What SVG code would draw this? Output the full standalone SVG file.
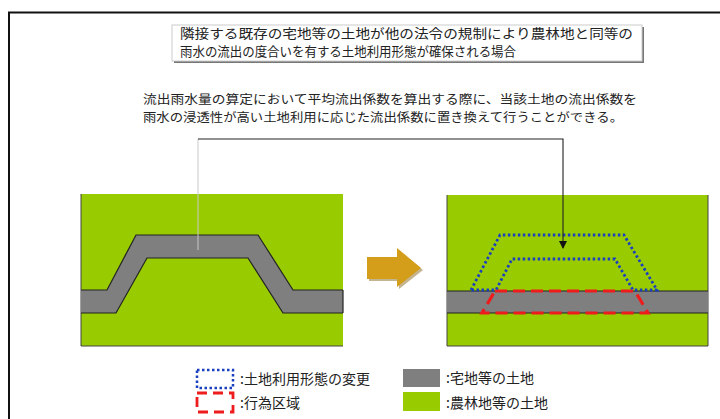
<svg xmlns="http://www.w3.org/2000/svg" width="720" height="419" viewBox="0 0 720 419">
<defs>
<style>
.t{font-family:"Noto Sans CJK JP","Noto Sans",sans-serif;fill:#222;}
.green{fill:#99cc00;}
.road{fill:#7f7f7f;}
.edge{fill:none;stroke:#222;stroke-width:1.2;}
.blue{fill:none;stroke:#1a3fbf;stroke-width:2.8;stroke-dasharray:2.5 2.5;}
.red{fill:none;stroke:#ee1c1c;stroke-width:3.2;stroke-dasharray:12 6;}
</style>
<marker id="ah" markerWidth="8" markerHeight="8" refX="7" refY="4" orient="auto" markerUnits="userSpaceOnUse">
<path d="M0,0 L8,4 L0,8 Z" fill="#111"/>
</marker>
</defs>
<rect x="0" y="0" width="720" height="419" fill="#fff"/>
<path d="M9,419 V12.5 H720" fill="none" stroke="#111" stroke-width="2"/>

<g id="title">
<rect x="174" y="27" width="470" height="36" fill="#777"/>
<rect x="172" y="25" width="470" height="36" fill="#fff" stroke="#ccc" stroke-width="1"/>
<text class="t" x="180" y="37.5" font-size="12.8" textLength="453" lengthAdjust="spacingAndGlyphs">隣接する既存の宅地等の土地が他の法令の規制により農林地と同等の</text>
<text class="t" x="180" y="55.5" font-size="12.8" textLength="336" lengthAdjust="spacingAndGlyphs">雨水の流出の度合いを有する土地利用形態が確保される場合</text>
</g>

<g id="note">
<text class="t" x="143" y="104" font-size="12" textLength="494" lengthAdjust="spacingAndGlyphs">流出雨水量の算定において平均流出係数を算出する際に、当該土地の流出係数を</text>
<text class="t" x="143" y="122" font-size="12" textLength="480" lengthAdjust="spacingAndGlyphs">雨水の浸透性が高い土地利用に応じた流出係数に置き換えて行うことができる。</text>
</g>

<g id="before">
<rect class="green" x="81" y="194" width="262" height="152"/>
<path d="M81,194 V346 H343" fill="none" stroke="#444" stroke-width="1"/>
<polygon class="road" points="81,290 107,290 136,235 258,235 293,290 343,290 343,313 283,313 248,258 147,258 116,313 81,313"/>
<polyline class="edge" points="81,290 107,290 136,235 258,235 293,290 343,290"/>
<polyline class="edge" points="81,313 116,313 147,258 248,258 283,313 343,313"/>
<line x1="343" y1="290" x2="343" y2="313" stroke="#222" stroke-width="1.2"/>
</g>

<g id="arrow">
<polygon points="369,259 399,259 399,250 423,270 399,289 399,281 369,281" fill="#8a6a20" opacity="0.5"/>
<polygon points="367,257 397,257 397,248 421,268 397,287 397,279 367,279" fill="#d49e1a"/>
</g>

<g id="after">
<rect class="green" x="447" y="195" width="261" height="151"/>
<path d="M447,195 V346 H708 V195" fill="none" stroke="#444" stroke-width="1"/>
<rect class="road" x="447" y="291" width="261" height="22"/>
<line class="edge" x1="447" y1="291" x2="708" y2="291"/>
<line class="edge" x1="447" y1="313" x2="708" y2="313"/>
<polygon class="red" points="495,291 635,291 648,313 482,313"/>
<polygon class="blue" points="471,290 500,235 624,235 657,290 633,290 615,259 512,259 496,290"/>
</g>

<g id="connectors">
<polyline points="198,250 198,139" fill="none" stroke="#c8c8c8" stroke-width="1"/>
<polyline points="198,139 563,139 563,248" fill="none" stroke="#222" stroke-width="1.1" marker-end="url(#ah)"/>
</g>

<g id="legend">
<rect class="blue" x="197" y="370" width="36" height="18" style="stroke-width:2.5"/>
<text class="t" x="240" y="384" font-size="14">:土地利用形態の変更</text>
<rect class="red" x="197" y="393" width="36" height="19" style="stroke-width:2.8;stroke-dasharray:10 6"/>
<text class="t" x="240" y="408" font-size="14">:行為区域</text>
<rect class="road" x="403" y="369" width="37" height="18"/>
<text class="t" x="446" y="383" font-size="14">:宅地等の土地</text>
<rect class="green" x="403" y="392" width="37" height="19"/>
<text class="t" x="446" y="408" font-size="14">:農林地等の土地</text>
</g>
</svg>
